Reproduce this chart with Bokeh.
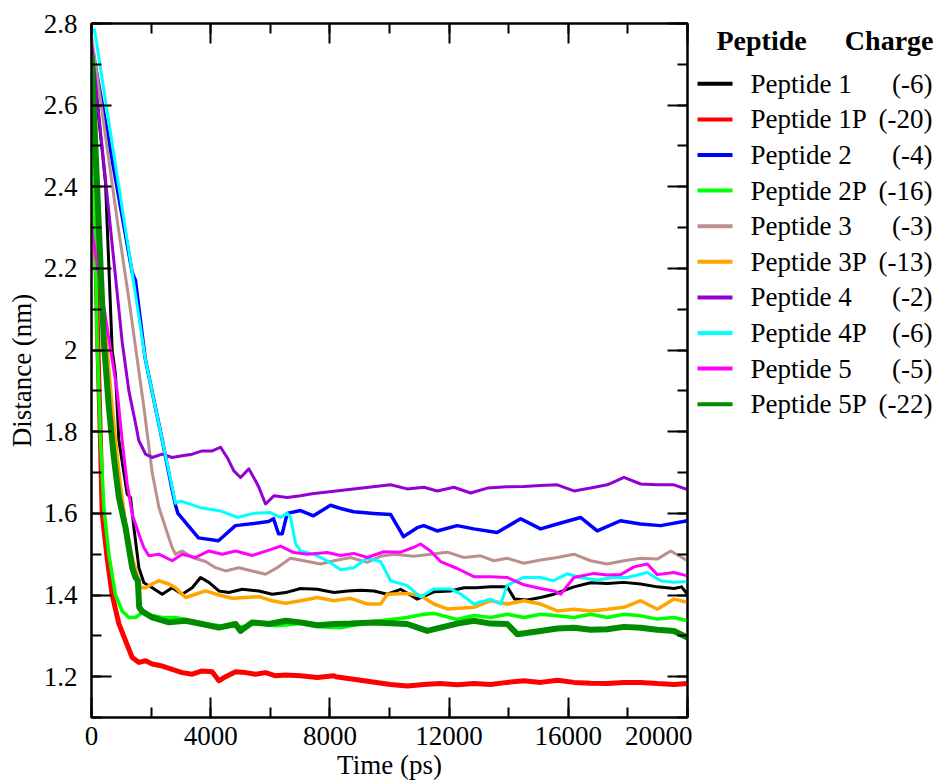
from bokeh.plotting import figure
from bokeh.models import Range1d, LinearAxis, SingleIntervalTicker, CustomJSTickFormatter, CustomLabelingPolicy
from bokeh.layouts import row
from bokeh.embed import file_html
from bokeh.resources import INLINE
from bokeh.core.properties import value

FONT = "Liberation Serif"
FS = "27px"

# ---------------- data ----------------
names = ["Peptide 1", "Peptide 1P", "Peptide 2", "Peptide 2P", "Peptide 3",
         "Peptide 3P", "Peptide 4", "Peptide 4P", "Peptide 5", "Peptide 5P"]
charges = ["(-6)", "(-20)", "(-4)", "(-16)", "(-3)", "(-13)", "(-2)", "(-6)", "(-5)", "(-22)"]
colors = ["#000000", "#ff0000", "#0000ff", "#00ff00", "#bc8f8f",
          "#ffa500", "#9400d3", "#00ffff", "#ff00ff", "#008b00"]
widths = [3, 5, 3.5, 3.5, 3, 3.5, 3, 3, 3, 6]

t_p1 = [0, 470, 694, 806, 918, 1086, 1198, 1310, 1422, 1590, 1757, 2037, 2373, 2708, 3044, 3380, 3660,
        3939, 4275, 4611, 5058, 5618, 6065, 6513, 7017, 7577, 8136, 8600, 9029, 9477, 9925, 10372,
        10932, 11491, 12050, 12500, 12900, 13391, 13950, 14200, 14621, 15069, 15516, 16188, 16748,
        17307, 17867, 18426, 18986, 19545, 19800, 20000]
d_p1 = [2.74, 2.41, 2.00, 1.94, 1.78, 1.70, 1.647, 1.639, 1.565, 1.467, 1.43, 1.418, 1.402, 1.418,
        1.402, 1.418, 1.443, 1.431, 1.41, 1.406, 1.414, 1.41, 1.402, 1.406, 1.416, 1.414, 1.406, 1.41,
        1.412, 1.41, 1.402, 1.414, 1.39, 1.408, 1.41, 1.418, 1.418, 1.42, 1.42, 1.39, 1.388, 1.394,
        1.402, 1.42, 1.43, 1.428, 1.431, 1.427, 1.42, 1.416, 1.42, 1.402]

t_p1p = [0, 200, 300, 358, 526, 694, 918, 1142, 1366, 1590, 1813, 2037, 2373, 2708, 3044, 3380, 3715,
         4050, 4275, 4499, 4835, 5170, 5506, 5842, 6177, 6513, 7017, 7577, 8136, 8200, 10034, 10600,
         11150, 11700, 12270, 12830, 13390, 13950, 14510, 15070, 15630, 16190, 16750, 17300, 17870,
         18430, 18990, 19550, 20000]
d_p1p = [2.72, 2.05, 1.78, 1.60, 1.49, 1.40, 1.33, 1.288, 1.247, 1.235, 1.239, 1.231, 1.226, 1.218,
         1.21, 1.206, 1.214, 1.212, 1.19, 1.20, 1.212, 1.21, 1.206, 1.21, 1.202, 1.204, 1.202, 1.198,
         1.202, 1.20, 1.181, 1.177, 1.181, 1.183, 1.18, 1.183, 1.181, 1.186, 1.19, 1.186, 1.191, 1.186,
         1.184, 1.183, 1.186, 1.186, 1.183, 1.181, 1.183]

t_p2 = [0, 1365, 1477, 1800, 2372, 2700, 2819, 2900, 3590, 4260, 4830, 5440, 5940, 6110, 6276, 6400,
        6567, 7014, 7450, 8020, 8360, 8800, 9470, 10040, 10470, 10930, 11150, 11600, 12270, 12830,
        13610, 14400, 15070, 15630, 16410, 16970, 17750, 18420, 19100, 20000]
d_p2 = [2.75, 2.19, 2.17, 1.98, 1.78, 1.66, 1.62, 1.60, 1.54, 1.533, 1.57, 1.575, 1.58, 1.587, 1.55,
        1.55, 1.60, 1.607, 1.594, 1.62, 1.612, 1.604, 1.60, 1.597, 1.543, 1.565, 1.57, 1.557, 1.57,
        1.562, 1.553, 1.587, 1.562, 1.574, 1.59, 1.557, 1.582, 1.574, 1.57, 1.582]

t_p2p = [0, 100, 191, 302, 414, 582, 806, 1030, 1254, 1478, 1701, 2037, 2373, 2820, 3156, 3700, 4300,
         5000, 5600, 6200, 7000, 7600, 8356, 9475, 10594, 11153, 11489, 12273, 12832, 13392, 13951,
         14511, 15070, 15630, 16189, 16749, 17308, 17868, 18427, 18987, 19546, 20000]
d_p2p = [2.65, 2.35, 2.02, 1.78, 1.615, 1.50, 1.40, 1.361, 1.345, 1.345, 1.357, 1.35, 1.345, 1.345,
         1.34, 1.33, 1.325, 1.322, 1.33, 1.325, 1.33, 1.322, 1.32, 1.335, 1.345, 1.353, 1.355, 1.34,
         1.35, 1.345, 1.353, 1.345, 1.353, 1.349, 1.345, 1.353, 1.345, 1.353, 1.349, 1.341, 1.345, 1.337]

t_p3 = [0, 918, 1254, 1530, 1757, 2037, 2261, 2484, 2708, 2820, 3044, 3380, 3827, 4163, 4499, 4946,
        5394, 5842, 6232, 6679, 7127, 7686, 8134, 8694, 9253, 9701, 10149, 10820, 11377, 11937, 12497,
        13056, 13504, 13951, 14511, 15070, 15630, 16189, 16749, 17308, 17868, 18427, 18987, 19434, 20000]
d_p3 = [2.77, 2.29, 2.125, 1.98, 1.86, 1.70, 1.615, 1.565, 1.516, 1.50, 1.508, 1.492, 1.482, 1.467,
        1.459, 1.467, 1.459, 1.451, 1.467, 1.49, 1.484, 1.476, 1.484, 1.492, 1.48, 1.495, 1.50, 1.495,
        1.50, 1.505, 1.492, 1.496, 1.484, 1.49, 1.478, 1.486, 1.492, 1.50, 1.484, 1.476, 1.484, 1.49,
        1.488, 1.508, 1.484]

t_p3p = [0, 300, 526, 694, 918, 1142, 1366, 1589, 1645, 1813, 2037, 2261, 2596, 2820, 3156, 3492, 3827,
         4275, 4723, 5170, 5618, 6065, 6513, 7017, 7577, 8136, 8694, 9253, 9700, 9925, 10596, 11043,
         11491, 11939, 12832, 13392, 13951, 14511, 15070, 15630, 16189, 16749, 17308, 17868, 18427,
         18987, 19546, 20000]
d_p3p = [2.70, 2.15, 2.00, 1.86, 1.70, 1.574, 1.492, 1.435, 1.418, 1.418, 1.427, 1.435, 1.427, 1.418,
         1.394, 1.402, 1.41, 1.40, 1.392, 1.394, 1.396, 1.386, 1.38, 1.386, 1.394, 1.386, 1.392, 1.378,
         1.378, 1.402, 1.404, 1.398, 1.378, 1.366, 1.37, 1.386, 1.378, 1.386, 1.378, 1.361, 1.365,
         1.361, 1.365, 1.37, 1.386, 1.365, 1.39, 1.382]

t_p4 = [0, 1030, 1254, 1478, 1589, 1701, 1813, 2037, 2373, 2708, 3044, 3380, 3715, 4051, 4331, 4553,
        4777, 5001, 5281, 5504, 5616, 5840, 6120, 6567, 7015, 7400, 10036, 10594, 11153, 11601, 12161,
        12720, 13280, 13950, 14511, 15070, 15630, 16189, 16749, 17308, 17868, 18427, 18987, 19546, 20000]
d_p4 = [2.75, 2.02, 1.90, 1.82, 1.778, 1.762, 1.745, 1.737, 1.745, 1.737, 1.741, 1.745, 1.753, 1.753,
        1.762, 1.737, 1.704, 1.688, 1.709, 1.68, 1.664, 1.623, 1.643, 1.639, 1.643, 1.648, 1.67, 1.66,
        1.664, 1.655, 1.664, 1.65, 1.662, 1.665, 1.666, 1.668, 1.67, 1.655, 1.662, 1.67, 1.688, 1.672,
        1.67, 1.67, 1.658]

t_p4p = [0, 100, 1365, 1800, 2372, 2819, 3000, 3658, 4330, 4890, 5440, 6000, 6340, 6570, 6680, 6850,
         7014, 7450, 7910, 8360, 8800, 9250, 9700, 10040, 10600, 11040, 11480, 12050, 12380, 12830,
         13390, 13730, 13950, 14500, 15070, 15500, 15960, 16410, 16970, 17520, 17980, 18650, 19100,
         19530, 20000]
d_p4p = [2.78, 2.785, 2.19, 1.98, 1.78, 1.625, 1.63, 1.614, 1.606, 1.59, 1.60, 1.602, 1.59, 1.60, 1.59,
         1.525, 1.508, 1.50, 1.484, 1.462, 1.467, 1.49, 1.482, 1.435, 1.423, 1.395, 1.415, 1.415, 1.403,
         1.378, 1.39, 1.378, 1.424, 1.443, 1.443, 1.435, 1.452, 1.443, 1.437, 1.443, 1.443, 1.455,
         1.435, 1.431, 1.433]

t_p5 = [0, 600, 862, 1030, 1198, 1366, 1590, 1757, 1925, 2261, 2708, 3044, 3492, 3939, 4387, 4835,
        5394, 5954, 6344, 6791, 7239, 7910, 8358, 8805, 9253, 9813, 10372, 10820, 11041, 11377, 11713,
        12273, 12832, 13392, 13951, 14511, 15070, 15518, 15742, 16189, 16860, 17308, 17756, 18203,
        18651, 18986, 19546, 20000]
d_p5 = [2.30, 2.02, 1.90, 1.778, 1.672, 1.598, 1.549, 1.516, 1.496, 1.50, 1.484, 1.50, 1.492, 1.508,
        1.50, 1.508, 1.497, 1.51, 1.52, 1.504, 1.50, 1.504, 1.497, 1.502, 1.492, 1.506, 1.505, 1.517,
        1.525, 1.508, 1.482, 1.465, 1.445, 1.445, 1.443, 1.425, 1.416, 1.41, 1.402, 1.443, 1.453,
        1.449, 1.45, 1.469, 1.476, 1.45, 1.455, 1.447]

t_p5p = [0, 414, 582, 750, 918, 1142, 1366, 1478, 1556, 1600, 1700, 2037, 2596, 3156, 3715, 4275, 4835,
         5003, 5394, 5954, 6513, 7017, 7577, 8136, 8700, 9475, 10594, 11265, 11713, 12273, 12832,
         13392, 13951, 14287, 15070, 15630, 16189, 16749, 17308, 17868, 18427, 18987, 19546, 20000]
d_p5p = [2.72, 2.02, 1.86, 1.737, 1.639, 1.565, 1.467, 1.443, 1.435, 1.37, 1.36, 1.345, 1.333, 1.337,
         1.329, 1.32, 1.329, 1.312, 1.333, 1.329, 1.337, 1.333, 1.326, 1.329, 1.33, 1.333, 1.329, 1.312,
         1.32, 1.33, 1.337, 1.33, 1.329, 1.304, 1.312, 1.318, 1.32, 1.315, 1.316, 1.322, 1.32, 1.315,
         1.312, 1.296]

times = [t_p1, t_p1p, t_p2, t_p2p, t_p3, t_p3p, t_p4, t_p4p, t_p5, t_p5p]
dists = [d_p1, d_p1p, d_p2, d_p2p, d_p3, d_p3p, d_p4, d_p4p, d_p5, d_p5p]

# ---------------- layout numbers (page pixels, body margin is 0) ----------------
FRAME_L, FRAME_T, FRAME_W, FRAME_H = 91, 23, 596, 694
BORDER_R = 5
PAGE_W, PAGE_H = 944, 783
BORDER_B = PAGE_H - FRAME_T - FRAME_H
MAIN_W = FRAME_L + FRAME_W + BORDER_R

# ---------------- main plot ----------------
p = figure(frame_width=FRAME_W, frame_height=FRAME_H, title=None,
           x_range=Range1d(0, 20000), y_range=Range1d(1.1, 2.8000001),
           output_backend="svg", toolbar_location=None,
           min_border_left=FRAME_L, min_border_top=FRAME_T, min_border_bottom=BORDER_B,
           min_border_right=BORDER_R,
           x_axis_label="Time (ps)", y_axis_label="Distance (nm)")
p.background_fill_color = "white"
p.border_fill_color = "white"
p.outline_line_color = "black"
p.outline_line_width = 2
p.xgrid.visible = False
p.ygrid.visible = False

xt = SingleIntervalTicker(interval=4000, num_minor_ticks=2)
yt = SingleIntervalTicker(interval=0.2, num_minor_ticks=2)

xax = p.xaxis[0]
yax = p.yaxis[0]
xax.ticker = xt
yax.ticker = yt
xax.formatter = CustomJSTickFormatter(code="return String(Math.round(tick));")
yax.formatter = CustomJSTickFormatter(code="return String(Number(tick.toFixed(1)));")

no_labels = CustomLabelingPolicy(code="for (const i of indices) { indices.unset(i) }\nreturn indices")
top = LinearAxis(ticker=xt, major_label_text_font_size="0px", major_label_standoff=0,
                 major_label_policy=no_labels)
right = LinearAxis(ticker=yt, major_label_text_font_size="0px", major_label_standoff=0,
                   major_label_policy=no_labels)
p.add_layout(top, "above")
p.add_layout(right, "right")

for ax in [xax, yax, top, right]:
    ax.major_tick_in = 20
    ax.major_tick_out = 0
    ax.minor_tick_in = 10
    ax.minor_tick_out = 0
    ax.axis_line_width = 2
    ax.axis_line_color = "black"
    ax.major_tick_line_width = 2
    ax.minor_tick_line_width = 2
    ax.major_tick_line_color = "black"
    ax.minor_tick_line_color = "black"

for ax in [xax, yax]:
    ax.major_label_text_font = FONT
    ax.major_label_text_font_size = FS
    ax.major_label_text_color = "black"
    ax.axis_label_text_font = FONT
    ax.axis_label_text_font_size = FS
    ax.axis_label_text_font_style = "normal"
    ax.axis_label_text_color = "black"

xax.major_label_standoff = 9
xax.axis_label_standoff = 2
yax.major_label_standoff = 14
yax.axis_label_standoff = 4

for t, d, c, w in zip(times, dists, colors, widths):
    p.line(t, d, line_color=c, line_width=w, line_join="round")

# ---------------- legend panel (coordinates = page pixels) ----------------
leg_w = PAGE_W - MAIN_W
leg = figure(frame_width=leg_w, frame_height=FRAME_H,
             x_range=Range1d(MAIN_W, PAGE_W), y_range=Range1d(FRAME_T + FRAME_H, FRAME_T),
             output_backend="svg", toolbar_location=None, title=None,
             x_axis_type=None, y_axis_type=None,
             min_border_left=0, min_border_right=0, min_border_top=FRAME_T, min_border_bottom=BORDER_B)
leg.outline_line_color = None
leg.xgrid.visible = False
leg.ygrid.visible = False
leg.background_fill_color = "white"
leg.border_fill_color = "white"

leg.text(x=[716], y=[40], text=["Peptide"], text_font=value(FONT), text_font_size=value("28px"),
         text_font_style="bold", text_align="left", text_baseline="middle", text_color="black")
leg.text(x=[933], y=[40], text=["Charge"], text_font=value(FONT), text_font_size=value("28px"),
         text_font_style="bold", text_align="right", text_baseline="middle", text_color="black")

rows_y = [83.3 + i * 35.6 for i in range(len(names))]
for i, c in enumerate(colors):
    leg.line([697, 732], [rows_y[i], rows_y[i]], line_color=c, line_width=4)
leg.text(x=[750] * len(names), y=rows_y, text=names, text_font=value(FONT), text_font_size=value(FS),
         text_align="left", text_baseline="middle", text_color="black")
leg.text(x=[932] * len(names), y=rows_y, text=charges, text_font=value(FONT), text_font_size=value(FS),
         text_align="right", text_baseline="middle", text_color="black")

layout = row(p, leg)
open("out.html", "w").write(file_html(layout, INLINE))
